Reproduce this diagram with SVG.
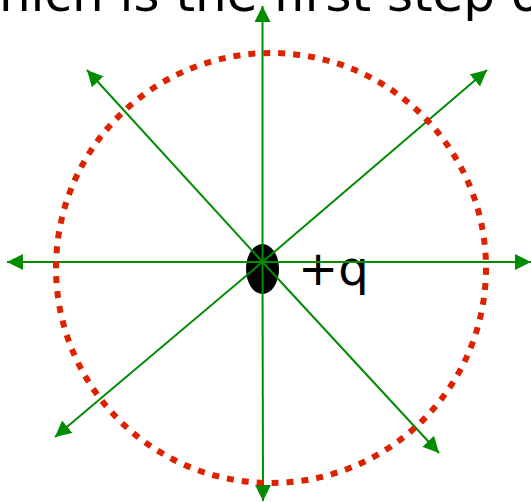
<svg xmlns="http://www.w3.org/2000/svg" width="531" height="502" viewBox="0 0 531 502">
<style>
.title{font-family:"DejaVu Sans",sans-serif;font-size:50px;fill:#000}
.lbl{font-family:"DejaVu Sans",sans-serif;font-size:48px;fill:#000}
.field{stroke:#008c00;stroke-width:2;fill:none;marker-end:url(#ah)}
.ring{fill:none;stroke:#dd2200;stroke-width:6;stroke-dasharray:7 8}
</style>
<defs>
<marker id="ah" markerUnits="userSpaceOnUse" markerWidth="16" markerHeight="16" refX="16" refY="8" orient="auto">
<path d="M0,0 L16,8 L0,16 Z" fill="#008c00"/>
</marker>
</defs>
<rect width="531" height="502" fill="#fff"/>
<text class="title" x="-42" y="11">which is the first step of</text>
<g id="charge">
<ellipse cx="262.5" cy="269" rx="16.5" ry="25" fill="#000"/>
<text class="lbl" x="298" y="285">+q</text>
</g>
<g id="connectors">
<line class="field" x1="262.5" y1="262" x2="262.5" y2="6"/>
<line class="field" x1="262.5" y1="262" x2="263" y2="501"/>
<line class="field" x1="262.5" y1="262" x2="7" y2="262"/>
<line class="field" x1="262.5" y1="262" x2="531" y2="262"/>
<line class="field" x1="262.5" y1="262" x2="87" y2="70"/>
<line class="field" x1="262.5" y1="262" x2="487" y2="70"/>
<line class="field" x1="262.5" y1="262" x2="55" y2="437"/>
<line class="field" x1="262.5" y1="262" x2="439" y2="453"/>
</g>
<g id="surface">
<circle class="ring" cx="271" cy="268" r="215"/>
</g>
</svg>
